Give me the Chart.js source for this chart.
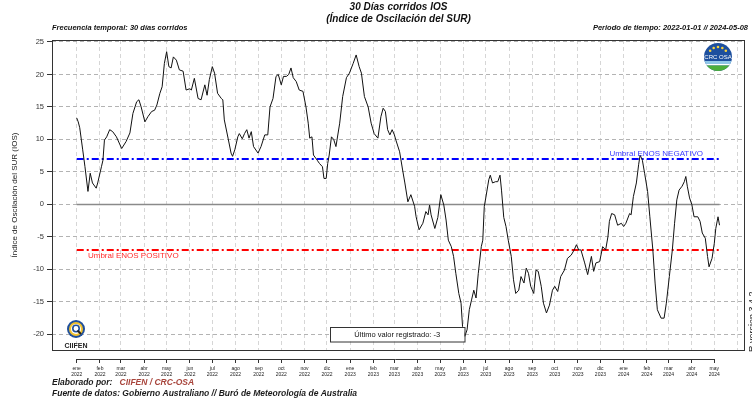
<!DOCTYPE html>
<html><head><meta charset="utf-8">
<script src="https://cdn.jsdelivr.net/npm/chart.js@4/dist/chart.umd.min.js"></script>
<style>html,body{margin:0;padding:0;background:#fff}#wrap{width:752px;height:401px;position:relative;background:#fff}</style>
</head><body><div id="wrap"><canvas id="c" width="752" height="401"></canvas></div>
<script>
// ---- DATA ----
const startDate = '2022-01-01';
const endDate = '2024-05-08';
// days since 2022-01-01
const days = [0,2,4,8,11,15,18,21,26,28,33,35,37,40,44,48,53,60,66,71,75,80,83,86,91,95,100,104,107,111,114,117,120,123,126,129,133,137,142,146,151,153,157,162,166,171,174,177,181,184,188,193,195,197,202,206,208,211,215,217,221,224,227,230,233,236,242,246,251,255,258,262,266,269,273,276,280,283,286,289,293,297,302,306,309,311,314,316,321,324,328,330,333,335,337,340,343,346,351,355,360,364,369,373,377,380,384,389,393,397,402,406,409,412,415,418,421,424,426,431,435,438,442,446,451,453,457,462,466,469,471,473,478,482,486,490,493,496,500,503,506,510,513,515,518,521,524,527,530,533,536,540,542,544,546,550,552,555,559,562,565,567,570,573,576,580,583,586,590,593,597,600,603,606,610,613,616,620,623,627,631,635,638,642,646,651,655,660,664,667,670,673,678,682,687,690,693,698,702,706,709,711,714,718,722,727,730,733,738,740,743,747,750,752,755,758,762,765,769,772,775,780,784,787,791,795,798,801,804,808,811,813,815,818,821,824,829,832,835,839,842,844,848,851,853,856,858];
const ios = [13.3,12.7,11.8,8.4,5.8,2.0,4.8,3.3,2.5,3.3,5.8,6.8,9.9,10.4,11.5,11.2,10.4,8.6,9.7,11.0,14.0,15.8,16.1,15.0,12.7,13.5,14.3,14.5,15.3,17.1,18.1,21.7,23.5,21.2,21.0,22.7,22.2,20.7,20.5,17.6,17.8,17.6,19.4,16.3,16.1,18.4,16.8,19.2,21.2,20.2,17.1,16.3,16.1,13.0,10.2,7.9,7.4,8.4,10.4,10.9,10.1,10.9,11.5,10.2,11.2,8.9,7.9,8.9,10.7,10.7,15.0,16.3,19.7,20.0,18.4,19.7,19.7,20.0,21.0,19.5,18.9,17.6,17.4,15.0,12.5,10.2,10.4,7.6,6.8,6.3,5.8,4.0,4.0,6.3,7.6,10.4,10.0,8.9,12.5,16.6,19.5,20.2,21.7,23.0,21.2,20.2,16.6,15.0,12.5,10.9,10.2,13.5,14.8,14.3,11.5,10.7,11.5,10.7,9.9,8.1,5.3,3.3,0.4,1.5,-0.3,-1.9,-3.9,-2.9,-1.1,-1.6,-0.1,-1.6,-3.7,-2.0,1.5,-0.1,-2.4,-5.5,-6.5,-8.0,-10.6,-13.7,-15.2,-18.8,-20.3,-19.3,-16.2,-14.7,-13.2,-14.4,-10.6,-6.5,-5.5,-0.3,1.0,3.8,4.5,3.3,3.5,3.5,4.5,2.2,-2.0,-3.4,-5.5,-8.0,-11.6,-13.7,-13.2,-11.1,-12.1,-9.8,-10.6,-12.6,-13.7,-10.1,-10.3,-12.6,-15.2,-16.7,-15.5,-13.2,-12.6,-13.4,-11.1,-10.1,-8.3,-7.8,-7.0,-6.2,-7.0,-7.0,-9.0,-10.8,-8.0,-10.3,-9.0,-8.8,-6.5,-7.0,-5.0,-2.6,-1.4,-1.6,-3.2,-2.9,-3.4,-2.9,-1.4,-1.6,1.2,3.3,6.1,7.6,6.8,4.8,2.0,-1.9,-7.0,-12.1,-16.2,-17.5,-17.5,-15.2,-11.1,-7.0,-2.9,0.7,2.2,2.8,3.5,4.3,2.8,1.0,0.0,-1.9,-1.9,-2.6,-4.4,-5.2,-8.0,-9.6,-8.3,-6.0,-3.7,-1.9,-3.2];
const monthNames = ['ene','feb','mar','abr','may','jun','jul','ago','sep','oct','nov','dic'];
const yTicks = [-20,-15,-10,-5,0,5,10,15,20,25];
const umbralNegativo = 7;
const umbralPositivo = -7;
const titleLines = ['30 Días corridos IOS', '(Índice de Oscilación del SUR)'];
const leftNote = 'Frecuencia temporal: 30 días corridos';
const rightNote = 'Periodo de tiempo: ' + startDate + ' // ' + endDate;
const yTitle = 'Índice de Oscilación del SUR (IOS)';

// ---- helpers ----
const t0 = Date.UTC(2022,0,1);
function dayOf(y,m){ return (Date.UTC(y,m,1)-t0)/86400000; }
const gridMonths = [], labelMonths = [];
for (let y=2022, m=0; y<2024 || (y===2024 && m<=5); ) {
  const v = dayOf(y,m);
  gridMonths.push(v);
  if (y<2024 || m<=4) labelMonths.push({value:v, label:[monthNames[m], String(y)]});
  m++; if (m>11){m=0;y++;}
}
const firstDay = days[0], lastDay = days[days.length-1];
const lastVal = ios[ios.length-1];
const FONT = "'Liberation Sans', Arial, Helvetica, sans-serif";

const decor = {
  id:'decor',
  afterDraw(chart){
    const {ctx, chartArea:a, scales} = chart;
    const xs = scales.x, ys = scales.y, xa = scales.xa;
    ctx.save();
    // frame
    ctx.strokeStyle = '#333'; ctx.lineWidth = 1; ctx.setLineDash([]);
    ctx.strokeRect(Math.round(a.left)+0.5, Math.round(a.top)+0.5, Math.round(a.right-a.left)-1, Math.round(a.bottom-a.top));
    // x axis line (from first to last labelled month)
    ctx.beginPath();
    const yl = Math.round(xa.top)+0.5;
    ctx.moveTo(xa.getPixelForValue(labelMonths[0].value), yl);
    ctx.lineTo(xa.getPixelForValue(labelMonths[labelMonths.length-1].value), yl);
    ctx.strokeStyle = '#333'; ctx.stroke();

    // titles
    ctx.fillStyle = '#111';
    ctx.textAlign = 'center'; ctx.textBaseline = 'middle';
    ctx.font = 'italic bold 10px ' + FONT;
    const cx = (a.left + a.right)/2;
    ctx.fillText(titleLines[0], cx, 7);
    ctx.fillText(titleLines[1], cx, 19);
    ctx.font = 'italic bold 7.5px ' + FONT;
    ctx.textAlign = 'left';
    ctx.fillText(leftNote, a.left, 28);
    ctx.textAlign = 'right';
    ctx.fillText(rightNote, 748, 28);

    // threshold labels
    ctx.font = '8px ' + FONT;
    ctx.textAlign = 'left'; ctx.textBaseline = 'middle';
    ctx.fillStyle = '#3b3bff';
    ctx.fillText('Umbral ENOS NEGATIVO', xs.getPixelForValue(711), ys.getPixelForValue(umbralNegativo) - 5.5);
    ctx.fillStyle = '#ff2a2a';
    ctx.fillText('Umbral ENOS POSITIVO', xs.getPixelForValue(15), ys.getPixelForValue(umbralPositivo) + 6);

    // last value box
    const bx1 = 330, bx2 = 464.5, by1 = 327, by2 = 341.5;
    ctx.fillStyle = '#fff'; ctx.fillRect(bx1, by1, bx2-bx1, by2-by1);
    ctx.strokeStyle = '#333'; ctx.lineWidth = 1;
    ctx.strokeRect(bx1+0.5, by1+0.5, bx2-bx1, by2-by1);
    ctx.fillStyle = '#111'; ctx.font = '7.5px ' + FONT; ctx.textAlign = 'center';
    ctx.fillText('Último valor registrado: ' + Math.round(lastVal), (bx1+bx2)/2, (by1+by2)/2+0.5);

    // CIIFEN logo
    const lx = 76, ly = 329;
    ctx.beginPath(); ctx.arc(lx, ly, 9, 0, Math.PI*2); ctx.fillStyle = '#1f4f9c'; ctx.fill();
    ctx.beginPath(); ctx.arc(lx, ly, 7, 0, Math.PI*2); ctx.fillStyle = '#f2c230'; ctx.fill();
    ctx.beginPath(); ctx.arc(lx, ly, 5, 0, Math.PI*2); ctx.fillStyle = '#ffffff'; ctx.fill();
    ctx.beginPath(); ctx.arc(lx, ly-0.5, 3.2, 0, Math.PI*2); ctx.lineWidth = 1.6; ctx.strokeStyle = '#1f4f9c'; ctx.stroke();
    ctx.beginPath(); ctx.moveTo(lx+1.5, ly+1.5); ctx.lineTo(lx+5, ly+5); ctx.lineWidth = 2; ctx.strokeStyle = '#222'; ctx.stroke();
    ctx.fillStyle = '#222'; ctx.font = 'bold 7px ' + FONT; ctx.textAlign = 'center';
    ctx.fillText('CIIFEN', lx, 346);

    // CRC-OSA logo
    const ox = 718, oy = 57, r = 14;
    ctx.beginPath(); ctx.arc(ox, oy, r, 0, Math.PI*2); ctx.fillStyle = '#1d4f9e'; ctx.fill();
    ctx.save(); ctx.beginPath(); ctx.arc(ox, oy, r, 0, Math.PI*2); ctx.clip();
    ctx.fillStyle = '#8fc6e8'; ctx.fillRect(ox-r, oy+4, 2*r, 3);
    ctx.fillStyle = '#ffffff'; ctx.fillRect(ox-r, oy+7, 2*r, 1.5);
    ctx.fillStyle = '#4caf3c'; ctx.fillRect(ox-r, oy+8.5, 2*r, 6);
    ctx.restore();
    ctx.fillStyle = '#f7d23a';
    for (let k=-2;k<=2;k++){ const ang = -Math.PI/2 + k*0.45; ctx.beginPath(); ctx.arc(ox+Math.cos(ang)*10, oy+Math.sin(ang)*10, 1.3, 0, Math.PI*2); ctx.fill(); }
    ctx.fillStyle = '#fff'; ctx.font = '6px ' + FONT; ctx.textAlign = 'center';
    ctx.fillText('CRC OSA', ox, oy);

    // R version
    ctx.save(); ctx.translate(757, 352); ctx.rotate(-Math.PI/2);
    ctx.textAlign = 'left'; ctx.textBaseline = 'bottom'; ctx.fillStyle = '#222'; ctx.font = '9px ' + FONT;
    ctx.fillText('R version 3.4.2', 0, 0); ctx.restore();

    // credits
    ctx.textAlign = 'left'; ctx.textBaseline = 'middle';
    ctx.font = 'italic bold 8.5px ' + FONT; ctx.fillStyle = '#1a1a1a';
    const e1 = 'Elaborado por:   ';
    ctx.fillText(e1, a.left, 383);
    const w1 = ctx.measureText(e1).width;
    ctx.fillStyle = '#a8453c';
    ctx.fillText('CIIFEN / CRC-OSA', a.left + w1, 383);
    ctx.fillStyle = '#1a1a1a';
    ctx.fillText('Fuente de datos: Gobierno Australiano // Buró de Meteorología de Australia', a.left, 394);
    ctx.restore();
  }
};

new Chart(document.getElementById('c').getContext('2d'), {
  type: 'line',
  data: { datasets: [
    { label:'IOS', data: days.map((d,i)=>({x:d, y:ios[i]})), borderColor:'#111', borderWidth:1, pointRadius:0, tension:0, order:0 },
    { label:'cero', data:[{x:firstDay,y:0},{x:lastDay,y:0}], borderColor:'#8a8a8a', borderWidth:1.5, pointRadius:0, order:3 },
    { label:'Umbral ENOS NEGATIVO', data:[{x:firstDay,y:umbralNegativo},{x:lastDay,y:umbralNegativo}], borderColor:'#0000ff', borderWidth:2, borderDash:[7,3,2,3], pointRadius:0, order:2 },
    { label:'Umbral ENOS POSITIVO', data:[{x:firstDay,y:umbralPositivo},{x:lastDay,y:umbralPositivo}], borderColor:'#ff0000', borderWidth:2, borderDash:[7,3,2,3], pointRadius:0, order:2 }
  ]},
  options: {
    responsive:false, animation:false, devicePixelRatio:1,
    layout:{ padding:{ top:40, right:7, bottom:20, left:0 } },
    plugins:{ legend:{display:false}, tooltip:{enabled:false}, title:{display:false} },
    scales:{
      x:{ type:'linear', position:'bottom', min:-33, max:892, weight:0,
        afterBuildTicks: s => { s.ticks = gridMonths.map(v=>({value:v})); },
        ticks:{ display:false },
        grid:{ color:'#d6d6d6', lineWidth:1, drawTicks:false },
        border:{ display:false, dash:[4,3] },
        afterFit: s => { s.height = 9; }
      },
      xa:{ type:'linear', position:'bottom', min:-33, max:892, weight:1,
        afterBuildTicks: s => { s.ticks = labelMonths.map(t=>({value:t.value})); },
        ticks:{ autoSkip:false, maxRotation:0, minRotation:0, padding:3, color:'#222',
          font:{ size:5, family:FONT, lineHeight:1.1 },
          callback: (v) => { const t = labelMonths.find(t=>t.value===v); return t ? t.label : ''; } },
        grid:{ drawOnChartArea:false, drawTicks:true, tickLength:4, tickColor:'#333', tickBorderDash:[] },
        border:{ display:false },
        afterFit: s => { s.height = 22; }
      },
      y:{ type:'linear', position:'left', min:-22.4, max:25.3,
        afterBuildTicks: s => { s.ticks = yTicks.map(v=>({value:v})); },
        ticks:{ autoSkip:false, padding:3, color:'#333', font:{ size:7.5, family:FONT } },
        grid:{ color:'#b3b3b3', lineWidth:1, drawTicks:true, tickLength:5, tickColor:'#333', tickBorderDash:[] },
        border:{ display:false, dash:[4,3] },
        title:{ display:true, text:yTitle, color:'#222', font:{ size:8, family:FONT }, padding:{ top:10, bottom:0 } },
        afterFit: s => { s.width = 52; }
      }
    }
  },
  plugins:[decor]
});
</script>
</body></html>
